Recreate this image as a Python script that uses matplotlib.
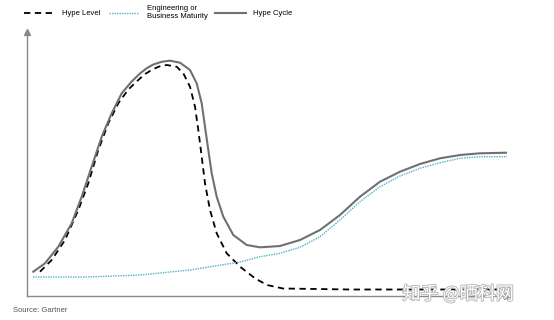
import matplotlib.pyplot as plt
import matplotlib.patheffects as pe

# values (arbitrary units: x along time, y = height)
cycle_x = [6.3, 18, 31.3, 44.7, 54.7, 64.7, 74.7, 84.7, 94.7, 104.7, 113, 120, 126.3,
           135, 143, 153, 163, 169.7, 174.7, 178, 181.3, 184.7, 189.7, 196.3, 206.3,
           219.7, 233, 243, 253, 273, 293, 313, 333, 353, 373, 393, 413, 433, 453, 480]
cycle_y = [24.3, 32.7, 49.3, 72.7, 99.3, 129.3, 159.3, 182.7, 202.7, 214.5, 222.5, 228, 231.5,
           234.3, 235.3, 233.3, 226, 212.7, 192.7, 169.3, 146, 122.7, 99.3, 79.3, 61,
           51, 48.7, 49.3, 50, 56, 66, 81, 99.3, 114.3, 124.3, 132, 137.7, 141, 142.7, 143.3]

hype_x = [13, 24.7, 38, 51.3, 61.3, 71.3, 81.3, 91.3, 101.3, 111.3, 117.3, 126.3, 133,
          139.7, 149.7, 156.3, 163, 168, 171.3, 174.7, 178, 183, 189.7, 199.7, 213,
          228, 240, 256, 323, 478]
hype_y = [24.3, 36, 56, 86, 112.7, 146, 172.7, 192.7, 206.5, 216, 221.5, 227, 229.8,
          231, 229.3, 222.7, 209.3, 189.3, 166, 139.3, 112.7, 86, 62.7, 42.7, 29.3,
          17.7, 11, 7.5, 6.5, 6.5]

eng_x = [6, 60, 113, 163, 213, 233, 253, 273, 293, 313, 333, 353, 373, 393, 413, 433,
         453, 480]
eng_y = [19, 19, 21, 26, 34, 39.3, 42.7, 48.7, 59.3, 76, 94.3, 109.3, 120, 127.7, 133.3,
         137.7, 139.3, 139.3]

plt.rcParams['font.family'] = ['Liberation Sans', 'DejaVu Sans']

fig = plt.figure(figsize=(5.54, 3.2), dpi=100)
ax = fig.add_axes([27 / 554, 24 / 320, 480 / 554, 264 / 320])

ax.plot(hype_x, hype_y, color="black", lw=1.3, dashes=(3.5, 2.5), label="Hype Level")
ax.plot(eng_x, eng_y, color="#4fb3c4", lw=1.0, ls=(0, (1, 0.8)),
        label="Engineering or\nBusiness Maturity")
ax.plot(cycle_x, cycle_y, color="#707070", lw=1.5, label="Hype Cycle")

ax.set_xlim(0, 480)
ax.set_ylim(0, 264)
ax.set_xticks([])
ax.set_yticks([])
for s in ["top", "right"]:
    ax.spines[s].set_visible(False)
for s in ["left", "bottom"]:
    ax.spines[s].set_color("#888888")
    ax.spines[s].set_linewidth(1.0)
ax.plot(0, 1, "^", color="#888888", ms=4, transform=ax.transAxes, clip_on=False)
ax.plot(1, 0, ">", color="#888888", ms=4, transform=ax.transAxes, clip_on=False)

fig.legend(loc="upper left", bbox_to_anchor=(22 / 554, 1 - 3 / 320), ncol=3, frameon=False,
           fontsize=5.5, handlelength=4.0, handletextpad=1.0, columnspacing=1.0,
           borderpad=0.3, borderaxespad=0)

fig.text(13 / 554, 1 - 311 / 320, "Source: Gartner", fontsize=5.5, color="#555555",
         va="center")

fig.text(458 / 554, 1 - 294 / 320, "知乎 @晒科网", fontsize=13, color="white",
         ha="center", va="center", family=["Noto Sans CJK SC", "DejaVu Sans"],
         path_effects=[pe.withStroke(linewidth=1.2, foreground="#b0b0b0")])

fig.savefig("out.png", dpi=100, facecolor="white")
